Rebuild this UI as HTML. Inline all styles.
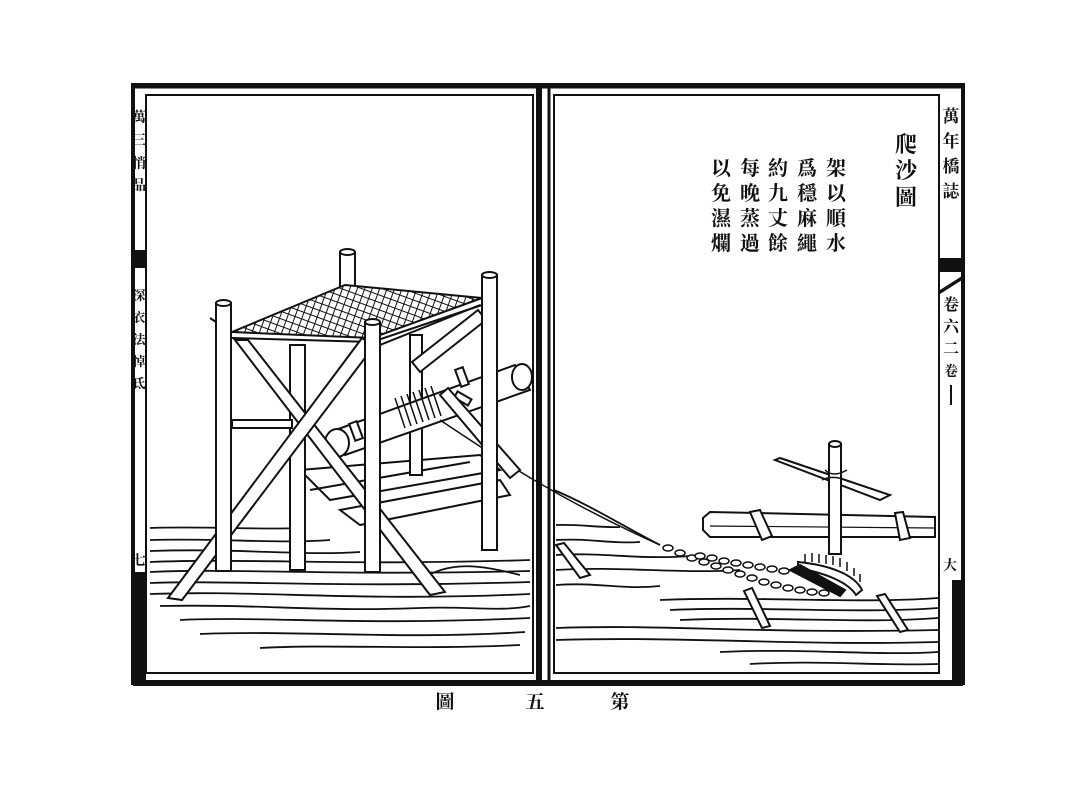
<!DOCTYPE html>
<html><head><meta charset="utf-8"><style>
html,body{margin:0;padding:0;background:#fff;}
svg{display:block;}
text{font-family:"Liberation Serif","Noto Serif CJK SC","Noto Sans CJK SC",serif;font-weight:bold;fill:#111;}
</style></head><body>
<svg width="1080" height="804" viewBox="0 0 1080 804" xmlns="http://www.w3.org/2000/svg">
<defs>
<pattern id="grid" width="7" height="7" patternUnits="userSpaceOnUse" patternTransform="rotate(20)">
<rect width="7" height="7" fill="#fff"/>
<path d="M0 0H7M0 0V7" stroke="#111" stroke-width="2"/>
</pattern>
</defs>
<g stroke="#111" fill="none">
<rect x="133" y="85" width="830" height="598" stroke-width="4"/>
<line x1="133" y1="683" x2="963" y2="683" stroke-width="6"/>
<line x1="133" y1="86" x2="963" y2="86" stroke-width="5"/>
<rect x="146" y="95" width="387" height="578" stroke-width="2"/>
<line x1="539" y1="86" x2="539" y2="683" stroke-width="6"/>
<line x1="549" y1="86" x2="549" y2="683" stroke-width="3"/>
<rect x="554" y="95" width="385" height="578" stroke-width="2"/>
<line x1="939" y1="95" x2="939" y2="673" stroke-width="2"/>
</g>
<rect x="940" y="258" width="22" height="14" fill="#111"/>
<polygon points="940,290 962,276 962,280 940,294" fill="#111"/>
<rect x="952" y="580" width="9" height="100" fill="#111"/>
<rect x="134" y="250" width="11" height="18" fill="#111"/>
<rect x="134" y="572" width="12" height="108" fill="#111"/>
<text x="951" y="122" font-size="17" text-anchor="middle">萬</text>
<text x="951" y="147" font-size="17" text-anchor="middle">年</text>
<text x="951" y="172" font-size="17" text-anchor="middle">橋</text>
<text x="951" y="197" font-size="17" text-anchor="middle">誌</text>
<text x="951" y="310" font-size="16" text-anchor="middle">卷</text>
<text x="951" y="332" font-size="16" text-anchor="middle">六</text>
<text x="951" y="354" font-size="16" text-anchor="middle">二</text>
<text x="951" y="376" font-size="14" text-anchor="middle">卷</text>
<line x1="951" y1="385" x2="951" y2="405" stroke="#111" stroke-width="2"/>
<text x="950" y="570" font-size="14" text-anchor="middle">大</text>
<text x="139" y="122" font-size="14" text-anchor="middle" fill="#333">萬</text>
<text x="139" y="145" font-size="14" text-anchor="middle" fill="#333">三</text>
<text x="139" y="168" font-size="14" text-anchor="middle" fill="#333">悄</text>
<text x="139" y="190" font-size="14" text-anchor="middle" fill="#333">品</text>
<text x="139" y="300" font-size="13" text-anchor="middle" fill="#333">深</text>
<text x="139" y="322" font-size="13" text-anchor="middle" fill="#333">衣</text>
<text x="139" y="344" font-size="13" text-anchor="middle" fill="#333">法</text>
<text x="139" y="366" font-size="13" text-anchor="middle" fill="#333">悼</text>
<text x="139" y="388" font-size="13" text-anchor="middle" fill="#333">氐</text>
<text x="139" y="565" font-size="14" text-anchor="middle">七</text>

<g font-size="22" text-anchor="middle">
<text x="906" y="152">爬</text><text x="906" y="178">沙</text><text x="906" y="205">圖</text>
</g>
<g font-size="20" text-anchor="middle">
<text x="836" y="175">架</text><text x="836" y="200">以</text><text x="836" y="225">順</text><text x="836" y="250">水</text>
<text x="807" y="175">爲</text><text x="807" y="200">穩</text><text x="807" y="225">麻</text><text x="807" y="250">繩</text>
<text x="778" y="175">約</text><text x="778" y="200">九</text><text x="778" y="225">丈</text><text x="778" y="250">餘</text>
<text x="750" y="175">每</text><text x="750" y="200">晚</text><text x="750" y="225">蒸</text><text x="750" y="250">過</text>
<text x="721" y="175">以</text><text x="721" y="200">免</text><text x="721" y="225">濕</text><text x="721" y="250">爛</text>
</g>
<g font-size="19" text-anchor="middle">
<text x="445" y="708">圖</text><text x="535" y="708">五</text><text x="620" y="708">第</text>
</g>

<g stroke="#111" stroke-width="2" fill="#fff">
<g fill="none" stroke-width="1.8">
<path d="M150 528 C200 526 260 530 300 528"/>
<path d="M150 540 C220 538 280 544 330 540"/>
<path d="M150 551 C240 548 300 556 360 552"/>
<path d="M150 562 C250 558 350 566 530 560"/>
<path d="M150 572 C240 568 330 576 530 571"/>
<path d="M150 583 C230 580 340 588 530 582"/>
<path d="M150 594 C260 590 360 602 530 594"/>
<path d="M160 606 C260 604 320 612 420 608 C470 606 500 612 530 606"/>
<path d="M180 620 C260 616 360 626 530 618"/>
<path d="M200 634 C300 630 400 640 525 632"/>
<path d="M260 648 C330 644 420 650 520 645"/>
<path d="M420 580 C450 560 480 565 520 575"/>
</g>
<polygon points="300,470 480,455 500,470 330,500" />
<line x1="310" y1="490" x2="470" y2="462"/>
<polygon points="340,510 500,480 510,495 360,525"/>
<rect x="290" y="345" width="15" height="225"/>
<rect x="410" y="335" width="12" height="140"/>
<rect x="340" y="252" width="15" height="40"/>
<ellipse cx="347.5" cy="252" rx="7.5" ry="3"/>
<rect x="232" y="420" width="60" height="8"/>
<line x1="380" y1="345" x2="480" y2="305"/>
<polygon points="330,432 515,365 530,390 345,455"/>
<ellipse cx="337" cy="443" rx="12" ry="14"/>
<ellipse cx="522" cy="377" rx="10" ry="13"/>
<g fill="none" stroke-width="1.5">
<path d="M395 398 l10 30 M401 396 l10 30 M407 394 l10 30 M413 392 l10 30 M419 390 l10 30 M425 388 l10 30 M431 386 l10 30"/>
</g>
<rect x="352" y="422" width="8" height="18" transform="rotate(-20 356 431)"/>
<rect x="458" y="368" width="8" height="18" transform="rotate(-20 462 377)"/>
<rect x="455" y="395" width="16" height="7" transform="rotate(30 463 398)"/>
<path d="M440 420 C500 460 560 500 660 545" fill="none" stroke-width="1.5"/>
<polygon points="232,332 345,285 482,298 372,338" fill="url(#grid)"/>
<line x1="232" y1="338" x2="372" y2="342"/>
<line x1="372" y1="342" x2="482" y2="305"/>
<polygon points="235,340 248,340 445,592 430,595"/>
<polygon points="362,338 374,346 182,600 168,598"/>
<polygon points="478,310 486,320 420,372 412,362"/>
<polygon points="440,395 448,388 520,470 510,478"/>
<rect x="216" y="303" width="15" height="268"/>
<ellipse cx="223.5" cy="303" rx="7.5" ry="3"/>
<rect x="365" y="322" width="15" height="250"/>
<ellipse cx="372.5" cy="322" rx="7.5" ry="3"/>
<rect x="482" y="275" width="15" height="275"/>
<ellipse cx="489.5" cy="275" rx="7.5" ry="3"/>
<line x1="210" y1="318" x2="216" y2="322"/>
</g>

<g stroke="#111" stroke-width="2" fill="#fff">
<g fill="none" stroke-width="1.8">
<path d="M556 525 C580 524 600 528 620 527"/>
<path d="M556 540 C590 538 610 544 640 542"/>
<path d="M556 555 C600 552 640 560 690 556"/>
<path d="M556 570 C620 566 680 574 740 570"/>
<path d="M556 585 C600 582 620 590 660 586"/>
<path d="M660 600 C760 596 860 604 938 598"/>
<path d="M670 610 C760 606 860 614 938 608"/>
<path d="M680 620 C780 616 860 624 938 618"/>
<path d="M556 628 C660 624 760 634 938 630"/>
<path d="M556 640 C680 636 800 646 938 642"/>
<path d="M720 652 C800 648 880 656 938 652"/>
<path d="M750 664 C820 660 880 666 938 664"/>
</g>
<path d="M554 490 C590 505 630 530 660 545" fill="none" stroke-width="1.8"/>
<polygon points="556,545 564,543 590,575 580,578"/>
<polygon points="703,518 710,512 935,517 935,537 710,537 703,530"/>
<line x1="710" y1="526" x2="935" y2="528" stroke-width="1.2"/>
<polygon points="750,512 760,510 772,536 762,540"/>
<polygon points="895,513 903,512 910,538 900,540"/>
<polygon points="775,460 780,458 890,495 880,500"/>
<rect x="829" y="444" width="12" height="110"/>
<ellipse cx="835" cy="444" rx="6" ry="3"/>
<path d="M825 470 q8 8 22 0 M822 480 q12 -6 28 2" fill="none" stroke-width="1.5"/>
<path d="M798 562 C830 565 855 575 862 590 L856 595 C848 582 825 573 798 568 Z"/>
<g stroke-width="1.5">
<path d="M805 562 v-8 M812 562 v-9 M819 563 v-9 M826 564 v-9 M833 565 v-9 M840 567 v-9 M847 571 v-9 M854 576 v-8 M860 582 v-8"/>
</g>
<polygon points="790,570 800,565 845,590 840,596" fill="#111"/>
<g fill="#fff" stroke-width="1.5">
<ellipse cx="668" cy="548" rx="5" ry="3"/>
<ellipse cx="680" cy="553" rx="5" ry="3"/>
<ellipse cx="692" cy="558" rx="5" ry="3"/>
<ellipse cx="704" cy="562" rx="5" ry="3"/>
<ellipse cx="716" cy="566" rx="5" ry="3"/>
<ellipse cx="728" cy="570" rx="5" ry="3"/>
<ellipse cx="740" cy="574" rx="5" ry="3"/>
<ellipse cx="752" cy="578" rx="5" ry="3"/>
<ellipse cx="764" cy="582" rx="5" ry="3"/>
<ellipse cx="776" cy="585" rx="5" ry="3"/>
<ellipse cx="788" cy="588" rx="5" ry="3"/>
<ellipse cx="800" cy="590" rx="5" ry="3"/>
<ellipse cx="812" cy="592" rx="5" ry="3"/>
<ellipse cx="824" cy="593" rx="5" ry="3"/>
<ellipse cx="700" cy="556" rx="5" ry="3"/>
<ellipse cx="712" cy="558" rx="5" ry="3"/>
<ellipse cx="724" cy="561" rx="5" ry="3"/>
<ellipse cx="736" cy="563" rx="5" ry="3"/>
<ellipse cx="748" cy="565" rx="5" ry="3"/>
<ellipse cx="760" cy="567" rx="5" ry="3"/>
<ellipse cx="772" cy="569" rx="5" ry="3"/>
<ellipse cx="784" cy="571" rx="5" ry="3"/>
</g>
<polygon points="744,591 752,588 770,626 762,628"/>
<polygon points="877,596 885,594 908,630 900,632"/>
</g>
</svg>
</body></html>
